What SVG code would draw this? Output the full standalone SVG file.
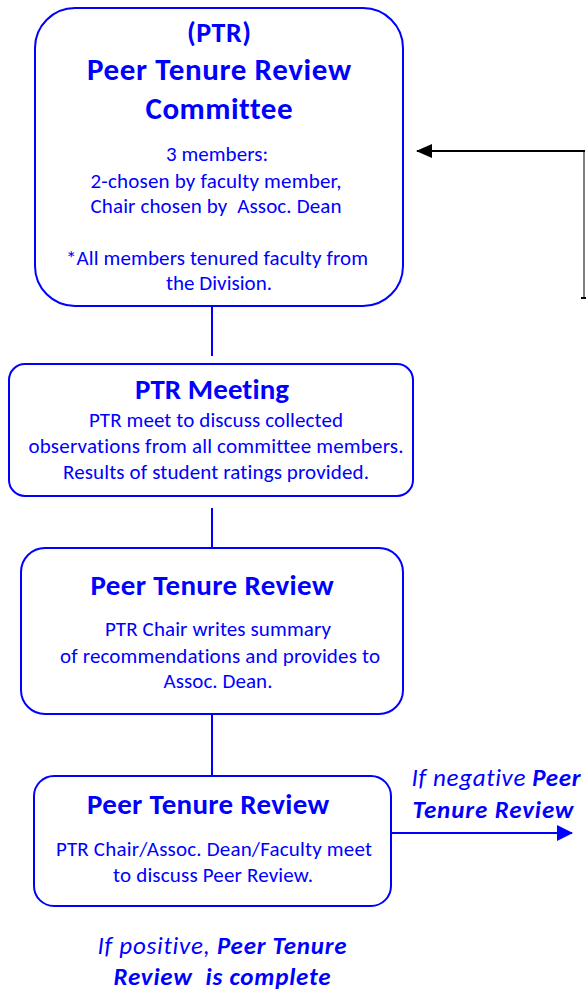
<svg xmlns="http://www.w3.org/2000/svg" width="586" height="992" viewBox="0 0 586 992">
<style>
.box{fill:#fff;stroke:#0000ff;stroke-width:2}
.t{font-family:Carlito,Lato,"Liberation Sans",sans-serif;fill:#0000ff;text-anchor:middle;font-variant-ligatures:none;white-space:pre}
.h{font-weight:bold}
.b{font-size:21px}
.i{font-style:italic;font-size:25px}
.link{stroke:#0000ff;stroke-width:2;fill:none}
</style>
<defs>
<marker id="ab" markerWidth="16" markerHeight="14" refX="15" refY="7" orient="auto" markerUnits="userSpaceOnUse" viewBox="0 0 16 14">
<path d="M0,0 L16,7 L0,14 z" fill="#000"/>
</marker>
<marker id="au" markerWidth="16" markerHeight="16" refX="15" refY="8" orient="auto" markerUnits="userSpaceOnUse" viewBox="0 0 16 16">
<path d="M0,0 L16,8 L0,16 z" fill="#0000ff"/>
</marker>
</defs>
<g id="connectors">
<line class="link" x1="212" y1="306" x2="212" y2="356"/>
<line class="link" x1="212" y1="508" x2="212" y2="548"/>
<line class="link" x1="212" y1="714" x2="212" y2="776"/>
<line class="link" x1="391" y1="833" x2="572" y2="833" marker-end="url(#au)"/>
<path d="M584,298 L584,151" stroke="#808080" stroke-width="2" fill="none"/>
<line x1="581" y1="298" x2="586" y2="298" stroke="#000" stroke-width="2"/>
<line x1="585" y1="151" x2="417" y2="151" stroke="#000" stroke-width="2" marker-end="url(#ab)"/>
</g>
<g id="committee">
<rect class="box" x="35" y="8" width="368" height="298" rx="40" ry="40"/>
<text class="t h" x="219" y="42" font-size="28" textLength="64">(PTR)</text>
<text class="t h" x="219" y="80" font-size="31" textLength="264">Peer Tenure Review</text>
<text class="t h" x="219" y="119" font-size="31" textLength="147">Committee</text>
<text class="t b" x="217" y="161" textLength="102">3 members:</text>
<text class="t b" x="216" y="188" textLength="251">2-chosen by faculty member,</text>
<text class="t b" x="216" y="213" textLength="251">Chair chosen by  Assoc. Dean</text>
<text class="t b" x="217" y="265" textLength="302">*All members tenured faculty from</text>
<text class="t b" x="219" y="290" textLength="106">the Division.</text>
</g>
<g id="meeting">
<rect class="box" x="9" y="364" width="404" height="132" rx="16" ry="16"/>
<text class="t h" x="212" y="399" font-size="29" textLength="154">PTR Meeting</text>
<text class="t b" x="216" y="427" textLength="254">PTR meet to discuss collected</text>
<text class="t b" x="216" y="453" textLength="375">observations from all committee members.</text>
<text class="t b" x="216" y="479" textLength="306">Results of student ratings provided.</text>
</g>
<g id="review1">
<rect class="box" x="21" y="548" width="382" height="166" rx="24" ry="24"/>
<text class="t h" x="212" y="595" font-size="29" textLength="243">Peer Tenure Review</text>
<text class="t b" x="218" y="636" textLength="226">PTR Chair writes summary</text>
<text class="t b" x="220" y="663" textLength="320">of recommendations and provides to</text>
<text class="t b" x="218" y="688" textLength="109">Assoc. Dean.</text>
</g>
<g id="review2">
<rect class="box" x="34" y="776" width="357" height="130" rx="20" ry="20"/>
<text class="t h" x="208" y="814" font-size="29" textLength="242">Peer Tenure Review</text>
<text class="t b" x="214" y="856" textLength="316">PTR Chair/Assoc. Dean/Faculty meet</text>
<text class="t b" x="213" y="882" textLength="200">to discuss Peer Review.</text>
</g>
<g id="negative-label">
<text class="t i" x="496" y="786" textLength="169">If negative <tspan class="h">Peer</tspan></text>
<text class="t i h" x="493" y="818" textLength="161">Tenure Review</text>
</g>
<g id="positive-label">
<text class="t i" x="222" y="954" textLength="249">If positive, <tspan class="h">Peer Tenure</tspan></text>
<text class="t i h" x="222" y="985" textLength="217">Review  is complete</text>
</g>
</svg>
